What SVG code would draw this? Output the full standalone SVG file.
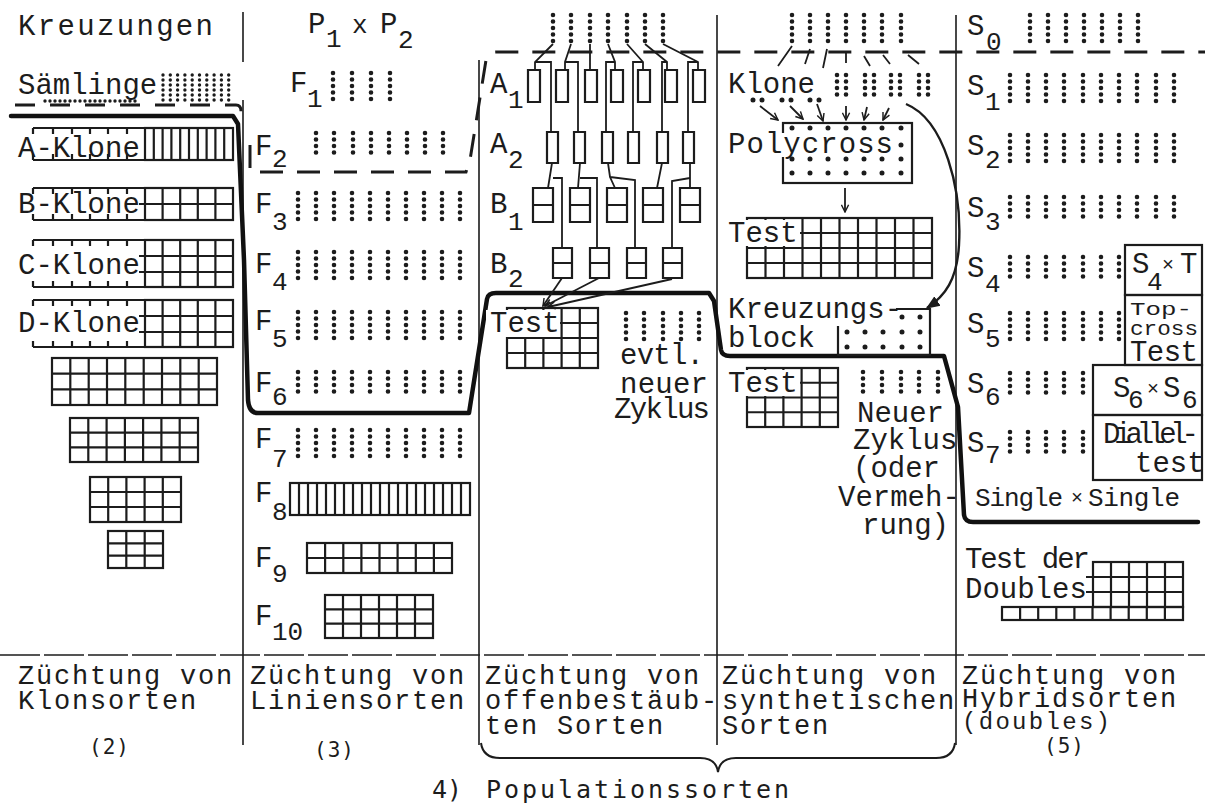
<svg xmlns="http://www.w3.org/2000/svg" width="1205" height="807" viewBox="0 0 1205 807">
<defs>
<style>
text{font-family:"Liberation Mono","DejaVu Sans Mono",monospace;fill:#1c1c1c}
.t{font-size:29px}
.sb{font-size:26px}
.bt{font-size:27px;letter-spacing:1.8px}
.x{font-size:20px}
.sm{font-family:"DejaVu Sans Mono","Liberation Mono",monospace;font-size:21px;letter-spacing:1px}
.pop{font-family:"DejaVu Sans Mono","Liberation Mono",monospace;font-size:25px}
.g{fill:none;stroke:#1c1c1c;stroke-width:2.2}
.d{fill:none;stroke:#1c1c1c;stroke-width:4.6;stroke-linecap:round;stroke-dasharray:0 6.5}
.ds{fill:none;stroke:#1c1c1c;stroke-width:3.4;stroke-linecap:round;stroke-dasharray:0 5}
.pt{fill:none;stroke:#1c1c1c;stroke-width:5;stroke-linecap:round}
.ln{fill:none;stroke:#1c1c1c;stroke-width:1.8}
.thick{fill:none;stroke:#111;stroke-width:4.5;stroke-linejoin:round;stroke-linecap:round}
.dash{fill:none;stroke:#1c1c1c;stroke-width:3;stroke-dasharray:20 15}
.dash2{fill:none;stroke:#1c1c1c;stroke-width:3;stroke-dasharray:23 14}
.div{fill:none;stroke:#1c1c1c;stroke-width:1.6}
.sep{fill:none;stroke:#1c1c1c;stroke-width:1.3;stroke-dasharray:40 4}
.wb{fill:#fff}
</style>
<marker id="ah" viewBox="0 0 10 10" refX="9" refY="5" markerWidth="9" markerHeight="9" markerUnits="userSpaceOnUse" orient="auto"><path d="M1,1L9,5L1,9" fill="none" stroke="#1c1c1c" stroke-width="1.6"/></marker>
<marker id="af" viewBox="0 0 10 10" refX="9" refY="5" markerWidth="14" markerHeight="14" markerUnits="userSpaceOnUse" orient="auto"><path d="M0,1L10,5L0,9Z" fill="#1c1c1c"/></marker>
<path id="rt" d="M33,0H233M33,0v6M53,0v6M72,0v6M90,0v6M108,0v6M127,0v6"/>
<path id="rb" d="M33,0H233M33,0v-6M53,0v-6M72,0v-6M90,0v-6M108,0v-6M127,0v-6"/>
</defs>
<rect width="1205" height="807" fill="#fff"/>

<g id="connectors">
<path class="div" d="M243,12V62M243,100V745M479,60V745M717,15V745M956,15V745"/>
<path class="sep" d="M0,655H1205"/>
<path class="dash" d="M15,105H236Q241,105 241,111V117"/>
<path class="dash2" d="M250,145V172H466L470,160L486,60Q488,52 496,52H1205"/>
<path class="thick" d="M11,116H233L238,124L244,260L248,400Q249,413 258,413H469L487,299Q488,293 496,293H709L714,301L721,350Q722,356 730,356H944L958,407L964,515Q965,522 973,522H1198"/>
<path class="ln" d="M553,44L535,62V70M535,62H551V132M571,44L565,62V70M565,62H578V132M590,44V70M608,44L615,62V70M615,62H606V132M627,44L643,62V70M643,62H633V132M645,44L667,62V70M667,62H662V132M663,44L698,62V70M698,62H688V132"/>
<path class="ln" d="M552,163L548,188M553,178H562V248M580,163L578,188M580,178H597V248M608,163L610,177L615,188M610,177L635,180V248M662,163L657,188M690,163V188M690,178L672,181V248"/>
<path class="ln" marker-end="url(#ah)" d="M562,278L543,306"/>
<path class="ln" marker-end="url(#ah)" d="M599,278L545,306"/>
<path class="ln" marker-end="url(#ah)" d="M672,279L548,307"/>
<path class="ln" d="M792,46L778,66M810,49L805,64M827,49L823,68M846,52V63M864,56L870,66M883,55L890,64M908,55L919,64"/>
<path class="ln" marker-end="url(#ah)" d="M760,106L778,120"/>
<path class="ln" marker-end="url(#ah)" d="M790,106L803,119"/>
<path class="ln" marker-end="url(#ah)" d="M817,104L823,121"/>
<path class="ln" marker-end="url(#ah)" d="M846,106V120"/>
<path class="ln" marker-end="url(#ah)" d="M867,107L864,120"/>
<path class="ln" marker-end="url(#ah)" d="M889,108L883,120"/>
<path class="ln" marker-end="url(#ah)" d="M845,188V212"/>
<path fill="none" stroke="#1c1c1c" stroke-width="2.4" marker-end="url(#af)" d="M906,104C945,120 962,190 959,245C957,280 945,296 927,308"/>
</g>

<g id="col-klonsorten">
<text class="t" x="18" y="35" textLength="195">Kreuzungen</text>
<g id="saemlinge">
<text class="t" x="18" y="94">Sämlinge</text>
<path class="ds" d="M163,75v26M170.3,75v26M177.6,75v26M184.9,75v26M192.2,75v26M199.5,75v26M206.8,75v26M214.1,75v26M221.4,75v26M228.7,75v26"/>
<path class="ds" d="M45,101H140"/>
</g>
<g id="a-klone">
<text class="t" x="18" y="157">A-Klone</text>
<use href="#rt" class="g" y="128"/><use href="#rb" class="g" y="160"/>
<rect class="g" x="145" y="128" width="88" height="32"/>
<path class="g" d="M153.8,128v32M162.6,128v32M171.4,128v32M180.2,128v32M189,128v32M197.8,128v32M206.6,128v32M215.4,128v32M224.2,128v32"/>
</g>
<g id="b-klone">
<text class="t" x="18" y="213">B-Klone</text>
<use href="#rt" class="g" y="188"/><use href="#rb" class="g" y="220"/>
<rect class="g" x="145" y="188" width="88" height="32"/>
<path class="g" d="M162.6,188v32M180.2,188v32M197.8,188v32M215.4,188v32M139,204H233"/>
</g>
<g id="c-klone">
<text class="t" x="18" y="274">C-Klone</text>
<use href="#rt" class="g" y="240"/><use href="#rb" class="g" y="287"/>
<rect class="g" x="145" y="240" width="88" height="47"/>
<path class="g" d="M162.6,240v47M180.2,240v47M197.8,240v47M215.4,240v47M139,256H233M139,272H233"/>
</g>
<g id="d-klone">
<text class="t" x="18" y="332">D-Klone</text>
<use href="#rt" class="g" y="300"/><use href="#rb" class="g" y="347"/>
<rect class="g" x="145" y="300" width="88" height="47"/>
<path class="g" d="M162.6,300v47M180.2,300v47M197.8,300v47M215.4,300v47M139,316H233M139,332H233"/>
</g>
<g id="pruefung-1">
<rect class="g" x="52" y="358" width="165" height="47"/>
<path class="g" d="M70.3,358v47M88.7,358v47M107,358v47M125.3,358v47M143.7,358v47M162,358v47M180.3,358v47M198.7,358v47M52,373.7H217M52,389.3H217"/>
</g>
<g id="pruefung-2">
<rect class="g" x="70" y="418" width="128" height="44"/>
<path class="g" d="M88.3,418v44M106.6,418v44M124.9,418v44M143.1,418v44M161.4,418v44M179.7,418v44M70,432.7H198M70,447.3H198"/>
</g>
<g id="pruefung-3">
<rect class="g" x="90" y="477" width="91" height="45"/>
<path class="g" d="M108.2,477v45M126.4,477v45M144.6,477v45M162.8,477v45M90,492H181M90,507H181"/>
</g>
<g id="pruefung-4">
<rect class="g" x="108" y="531" width="55" height="37"/>
<path class="g" d="M126.3,531v37M144.7,531v37M108,543.3H163M108,555.7H163"/>
</g>
</g>

<g id="col-liniensorten">
<g id="p1xp2">
<text class="t" x="308" y="33">P</text><text class="sb" x="326" y="47">1</text>
<text class="sb" x="352" y="33">x</text>
<text class="t" x="380" y="33">P</text><text class="sb" x="398" y="48">2</text>
</g>
<g id="f-labels">
<text class="t" x="290" y="92">F</text><text class="sb" x="307" y="107">1</text>
<text class="t" x="255" y="155">F</text><text class="sb" x="272" y="167">2</text>
<text class="t" x="255" y="213">F</text><text class="sb" x="272" y="230">3</text>
<text class="t" x="255" y="273">F</text><text class="sb" x="272" y="290">4</text>
<text class="t" x="255" y="330">F</text><text class="sb" x="272" y="347">5</text>
<text class="t" x="255" y="392">F</text><text class="sb" x="272" y="405">6</text>
<text class="t" x="255" y="448">F</text><text class="sb" x="272" y="467">7</text>
<text class="t" x="255" y="502">F</text><text class="sb" x="272" y="520">8</text>
<text class="t" x="255" y="567">F</text><text class="sb" x="272" y="582">9</text>
<text class="t" x="255" y="625">F</text><text class="sb" x="272" y="640">10</text>
</g>
<path class="d" d="M333,73v27M352,73v27M371,73v27M390,73v27"/>
<path class="d" d="M316,133v25M334,133v25M353,133v25M371,133v25M389,133v25M407,133v25M425,133v25M443,133v25"/>
<path class="d" d="M298,193v27M316,193v27M334,193v27M352,193v27M370,193v27M388,193v27M406,193v27M424,193v27M442,193v27M460,193v27"/>
<path class="d" d="M298,252v27M316,252v27M334,252v27M352,252v27M370,252v27M388,252v27M406,252v27M424,252v27M442,252v27M460,252v27"/>
<path class="d" d="M298,312v27M316,312v27M334,312v27M352,312v27M370,312v27M388,312v27M406,312v27M424,312v27M442,312v27M460,312v27"/>
<path class="d" d="M298,372v26M316,372v26M334,372v26M352,372v26M370,372v26M388,372v26M406,372v26M424,372v26M442,372v26M460,372v26"/>
<path class="d" d="M298,430v27M316,430v27M334,430v27M352,430v27M370,430v27M388,430v27M406,430v27M424,430v27M442,430v27M460,430v27"/>
<g id="f8">
<rect class="g" x="290" y="483" width="180" height="32"/>
<path class="g" d="M299,483v32M308,483v32M317,483v32M326,483v32M335,483v32M344,483v32M353,483v32M362,483v32M371,483v32M380,483v32M389,483v32M398,483v32M407,483v32M416,483v32M425,483v32M434,483v32M443,483v32M452,483v32M461,483v32"/>
</g>
<g id="f9">
<rect class="g" x="307" y="543" width="145" height="30"/>
<path class="g" d="M325.1,543v30M343.3,543v30M361.4,543v30M379.5,543v30M397.6,543v30M415.8,543v30M433.9,543v30M307,558H452"/>
</g>
<g id="f10">
<rect class="g" x="325" y="595" width="108" height="43"/>
<path class="g" d="M343,595v43M361,595v43M379,595v43M397,595v43M415,595v43M325,609.3H433M325,623.7H433"/>
</g>
</g>

<g id="col-offenbestaeubt">
<path class="d" d="M553,15v28M571,15v28M590,15v28M608,15v28M627,15v28M645,15v28M663,15v28"/>
<g id="a1">
<text class="t" x="490" y="93">A</text><text class="sb" x="508" y="108">1</text>
<path class="g" d="M528,70h12v32h-12zM556,70h12v32h-12zM585,70h12v32h-12zM611,70h12v32h-12zM638,70h12v32h-12zM665,70h12v32h-12zM693,70h12v32h-12z"/>
</g>
<g id="a2">
<text class="t" x="490" y="153">A</text><text class="sb" x="508" y="168">2</text>
<path class="g" d="M547,132h11v31h-11zM574,132h11v31h-11zM602,132h11v31h-11zM628,132h11v31h-11zM657,132h11v31h-11zM683,132h11v31h-11z"/>
</g>
<g id="b1">
<text class="t" x="490" y="213">B</text><text class="sb" x="508" y="230">1</text>
<path class="g" d="M533,188h20v34h-20zM533,205h20M570,188h20v34h-20zM570,205h20M607,188h20v34h-20zM607,205h20M643,188h20v34h-20zM643,205h20M680,188h20v34h-20zM680,205h20"/>
</g>
<g id="b2">
<text class="t" x="490" y="273">B</text><text class="sb" x="508" y="287">2</text>
<path class="g" d="M553,248h19v30h-19zM553,263h19M590,248h19v30h-19zM590,263h19M627,248h19v30h-19zM627,263h19M663,248h19v30h-19zM663,263h19"/>
</g>
<g id="test-offen">
<rect class="g" x="507" y="308" width="91" height="60"/>
<path class="g" d="M525.2,308v60M543.4,308v60M561.6,308v60M579.8,308v60M507,323H598M507,338H598M507,353H598"/>
<rect class="wb" x="486" y="310" width="74" height="27"/>
<text class="t" x="490" y="332">Test</text>
</g>
<g id="evtl-neuer-zyklus">
<path class="d" d="M626,313v27M644,313v27M663,313v27M681,313v27M699,313v27"/>
<text class="t" x="620" y="364" textLength="84">evtl.</text>
<text class="t" x="620" y="393" textLength="88">neuer</text>
<text class="t" x="614" y="418" textLength="96">Zyklus</text>
</g>
</g>

<g id="col-synthetisch">
<path class="d" d="M792,15v28M810,15v28M828,15v28M846,15v28M864,15v28M882,15v28M901,15v28"/>
<g id="klone">
<text class="t" x="728" y="93">Klone</text>
<path class="d" d="M837,75v25M846,75v25M865,75v25M874,75v25M891,75v25M900,75v25M919,75v25M928,75v25"/>
<path class="pt" d="M753,100h0M762,100h0M782,100h0M791,100h0M810,100h0M819,100h0"/>
</g>
<g id="polycross">
<rect class="g" x="783" y="123" width="129" height="60"/>
<rect class="wb" x="725" y="133" width="171" height="24"/>
<path class="pt" d="M792,128h0M810,128h0M828,128h0M846,128h0M864,128h0M882,128h0M901,128h0M901,145h0M792,159h0M810,159h0M828,159h0M846,159h0M864,159h0M882,159h0M901,159h0M792,173h0M810,173h0M828,173h0M846,173h0M864,173h0M882,173h0M901,173h0"/>
<text class="t" x="728" y="153" textLength="165">Polycross</text>
</g>
<g id="test-synth-1">
<rect class="g" x="747" y="218" width="185" height="60"/>
<path class="g" d="M765.5,218v60M784,218v60M802.5,218v60M821,218v60M839.5,218v60M858,218v60M876.5,218v60M895,218v60M913.5,218v60M747,233H932M747,248H932M747,263H932"/>
<rect class="wb" x="725" y="220" width="75" height="26"/>
<text class="t" x="728" y="242">Test</text>
</g>
<g id="kreuzungsblock">
<text class="t" x="728" y="318">Kreuzungs-</text>
<text class="t" x="728" y="347">block</text>
<path class="g" d="M838,326V355H930V309H896"/>
<path class="pt" d="M902,317h0M920,317h0M847,332h0M865,332h0M883,332h0M902,332h0M920,332h0M847,347h0M865,347h0M883,347h0M902,347h0M920,347h0"/>
</g>
<g id="test-synth-2">
<rect class="g" x="747" y="368" width="91" height="59"/>
<path class="g" d="M765.2,368v59M783.4,368v59M801.6,368v59M819.8,368v59M747,382.75H838M747,397.5H838M747,412.25H838"/>
<rect class="wb" x="725" y="370" width="75" height="26"/>
<text class="t" x="728" y="392">Test</text>
</g>
<g id="neuer-zyklus">
<path class="d" d="M863,372v25M882,372v25M901,372v25M919,372v25M938,372v25"/>
<text class="t" x="857" y="422">Neuer</text>
<text class="t" x="853" y="449">Zyklus</text>
<text class="t" x="853" y="477">(oder</text>
<text class="t" x="838" y="506">Vermeh-</text>
<text class="t" x="862" y="534">rung)</text>
</g>
</g>

<g id="col-hybrid">
<g id="s-labels">
<text class="t" x="967" y="35">S</text><text class="sb" x="986" y="50">0</text>
<text class="t" x="967" y="95">S</text><text class="sb" x="985" y="110">1</text>
<text class="t" x="967" y="155">S</text><text class="sb" x="985" y="168">2</text>
<text class="t" x="967" y="217">S</text><text class="sb" x="985" y="230">3</text>
<text class="t" x="967" y="277">S</text><text class="sb" x="985" y="292">4</text>
<text class="t" x="967" y="333">S</text><text class="sb" x="985" y="347">5</text>
<text class="t" x="967" y="393">S</text><text class="sb" x="985" y="405">6</text>
<text class="t" x="967" y="452">S</text><text class="sb" x="985" y="463">7</text>
</g>
<path class="d" d="M1030,15v28M1048,15v28M1066,15v28M1084,15v28M1102,15v28M1120,15v28M1138,15v28"/>
<path class="d" d="M1010,75v27M1028,75v27M1046,75v27M1064,75v27M1083,75v27M1101,75v27M1119,75v27M1137,75v27M1156,75v27M1174,75v27"/>
<path class="d" d="M1010,135v27M1028,135v27M1046,135v27M1064,135v27M1083,135v27M1101,135v27M1119,135v27M1137,135v27M1156,135v27M1174,135v27"/>
<path class="d" d="M1010,197v25M1028,197v25M1046,197v25M1064,197v25M1083,197v25M1101,197v25M1119,197v25M1137,197v25M1156,197v25M1174,197v25"/>
<path class="d" d="M1010,257v25M1028,257v25M1046,257v25M1064,257v25M1083,257v25M1101,257v25M1119,257v25"/>
<path class="d" d="M1010,313v27M1028,313v27M1046,313v27M1064,313v27M1083,313v27M1101,313v27M1119,313v27"/>
<path class="d" d="M1010,373v25M1028,373v25M1046,373v25M1064,373v25M1083,373v25"/>
<path class="d" d="M1010,432v25M1028,432v25M1046,432v25M1064,432v25M1083,432v25"/>
<g id="s4xt">
<rect class="g" x="1125" y="245" width="77" height="50"/>
<text class="t" x="1132" y="273">S</text><text class="sb" x="1147" y="290">4</text><text class="x" x="1162" y="271">×</text><text class="t" x="1180" y="273">T</text>
</g>
<g id="topcross">
<rect class="g" x="1125" y="295" width="77" height="70"/>
<text x="1130" y="315" font-size="19" textLength="62" lengthAdjust="spacingAndGlyphs">Top-</text>
<text x="1130" y="335" font-size="21" textLength="68" lengthAdjust="spacingAndGlyphs">cross</text>
<text class="t" x="1130" y="361" textLength="68">Test</text>
</g>
<g id="s6xs6">
<rect class="g" x="1093" y="365" width="109" height="50"/>
<text class="t" x="1113" y="397">S</text><text class="sb" x="1128" y="408">6</text><text class="x" x="1147" y="395">×</text><text class="t" x="1163" y="397">S</text><text class="sb" x="1182" y="408">6</text>
</g>
<g id="dialleltest">
<rect class="g" x="1093" y="415" width="109" height="65"/>
<text class="t" x="1103" y="443" textLength="96">Diallel-</text>
<text class="t" x="1135" y="472">test</text>
</g>
<g id="single-single">
<text x="975" y="506" font-size="26" textLength="88">Single</text>
<text class="x" x="1071" y="504">×</text>
<text x="1088" y="506" font-size="26" textLength="92">Single</text>
</g>
<g id="test-doubles">
<text class="t" x="965" y="568" textLength="125">Test der</text>
<text class="t" x="965" y="598">Doubles</text>
<rect class="g" x="1093" y="562" width="90" height="45"/>
<path class="g" d="M1111,562v45M1129,562v45M1147,562v45M1165,562v45M1086,577H1183M1086,592H1183"/>
<rect class="g" x="1002" y="607" width="181" height="13"/>
<path class="g" d="M1020.1,607v13M1038.2,607v13M1056.3,607v13M1074.4,607v13M1092.5,607v13M1110.6,607v13M1128.7,607v13M1146.8,607v13M1164.9,607v13"/>
</g>
</g>

<g id="legende">
<g id="leg-klon"><text class="bt" x="18" y="684">Züchtung von</text><text class="bt" x="18" y="709">Klonsorten</text><text class="sm" x="89" y="754">(2)</text></g>
<g id="leg-linien"><text class="bt" x="250" y="684">Züchtung von</text><text class="bt" x="250" y="709">Liniensorten</text><text class="sm" x="314" y="757">(3)</text></g>
<g id="leg-offen"><text class="bt" x="485" y="684">Züchtung von</text><text class="bt" x="485" y="709">offenbestäub-</text><text class="bt" x="485" y="734">ten Sorten</text></g>
<g id="leg-synth"><text class="bt" x="722" y="684">Züchtung von</text><text class="bt" x="722" y="709">synthetischen</text><text class="bt" x="722" y="734">Sorten</text></g>
<g id="leg-hybrid"><text class="bt" x="962" y="684">Züchtung von</text><text class="bt" x="962" y="707">Hybridsorten</text><text x="962" y="729" font-size="24" textLength="148">(doubles)</text><text class="sm" x="1044" y="753">(5)</text></g>
<g id="leg-population">
<path fill="none" stroke="#1c1c1c" stroke-width="2" d="M481,743Q483,758 500,758H700Q716,758 718,772Q720,758 736,758H936Q953,758 955,743"/>
<text class="pop" x="432" y="798">4)</text>
<text class="pop" x="486" y="798" textLength="303">Populationssorten</text>
</g>
</g>
</svg>
